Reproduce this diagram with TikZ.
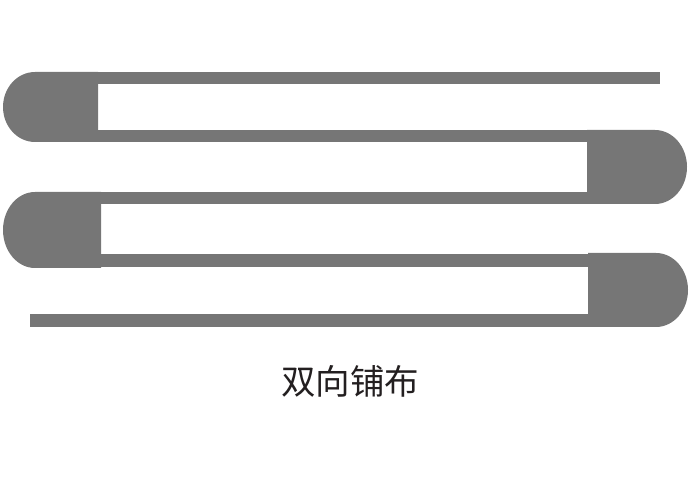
\documentclass[tikz,border=0pt]{standalone}
\usepackage{fontspec}
\newfontfamily\cjk{Noto Sans CJK SC}
\definecolor{bargray}{RGB}{118,118,118}
\definecolor{txt}{RGB}{35,31,32}
\begin{document}
\begin{tikzpicture}[x=1pt,y=1pt,
  barfill/.style={fill=bargray},
  lab/.style={text=txt,font=\cjk\fontsize{34.5}{40}\selectfont,inner sep=0pt}]
\useasboundingbox (0,0) rectangle (690,500);
% bars
\fill[barfill] (40,416) rectangle (660,428);
\fill[barfill] (60,358) rectangle (620,370);
\fill[barfill] (60,296) rectangle (620,308);
\fill[barfill] (60,233) rectangle (620,246);
\fill[barfill] (30,173) rectangle (620,186);
% left caps
\fill[barfill] (98,428) -- (35,428) arc[start angle=90,end angle=270,x radius=32,y radius=35] -- (98,358) -- cycle;
\fill[barfill] (101,308) -- (35,308) arc[start angle=90,end angle=270,x radius=32,y radius=38] -- (101,232) -- cycle;
% right caps
\fill[barfill] (587,370) -- (655,370) arc[start angle=90,end angle=-90,x radius=32,y radius=37] -- (587,296) -- cycle;
\fill[barfill] (588,247) -- (656,247) arc[start angle=90,end angle=-90,x radius=32,y radius=37] -- (588,173) -- cycle;
% label
\node[lab] (title) at (350,119) {双向铺布};
\end{tikzpicture}
\end{document}
